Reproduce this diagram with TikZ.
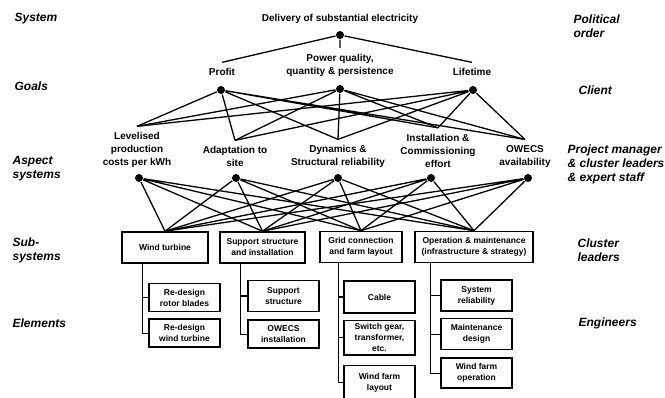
\documentclass[tikz,border=0pt]{standalone}
\usepackage{fontspec}
\setmainfont{Liberation Sans}
\usetikzlibrary{positioning}

\begin{document}
\begin{tikzpicture}[x=1pt, y=-1pt, line width=1.3pt, font=\bfseries]
  \tikzstyle{hub}=[circle, fill, inner sep=0pt, minimum size=8pt]
  \tikzstyle{lvl}=[font=\bfseries\itshape\fontsize{12}{14}\selectfont, align=left, anchor=west, inner sep=0pt]
  \tikzstyle{lbl}=[font=\bfseries\fontsize{10}{13}\selectfont, align=center, inner sep=0pt, outer ysep=6pt]
  \tikzstyle{box}=[draw, line width=1.6pt, align=center, font=\bfseries\fontsize{8.5}{11}\selectfont, inner xsep=2pt, inner ysep=3pt]
  \tikzstyle{subbox}=[box, minimum height=31pt]
  \tikzstyle{elbox}=[box, minimum width=71pt, minimum height=28pt]

  \useasboundingbox (0,0) rectangle (665,398);

  % levels, left
  \node[lvl] (lv_sys) at (14,19) {System};
  \node[lvl] (lv_goal) at (14,86) {Goals};
  \node[lvl] (lv_asp) at (12,169) {Aspect\\systems};
  \node[lvl] (lv_sub) at (12,250) {Sub-\\systems};
  \node[lvl] (lv_el) at (12,323) {Elements};

  % actors, right
  \node[lvl] (ac_pol) at (573,26) {Political\\order};
  \node[lvl] (ac_cl) at (578,90) {Client};
  \node[lvl] (ac_pm) at (567,164) {Project manager\\\& cluster leaders\\\& expert staff};
  \node[lvl] (ac_cls) at (577,250.5) {Cluster\\leaders};
  \node[lvl] (ac_eng) at (578,323) {Engineers};

  % system
  \node[lbl] (sys) at (340,19) {Delivery of substantial electricity};
  \node[hub] (sys_d) at (340,35) {};

  % goals
  \node[lbl] (g_profit) at (222,72) {Profit};
  \node[lbl] (g_power) at (340,65) {Power quality,\\quantity \& persistence};
  \node[lbl] (g_life) at (472,72) {Lifetime};
  \node[hub] (g_profit_d) at (221,90) {};
  \node[hub] (g_power_d) at (340,89) {};
  \node[hub] (g_life_d) at (473,90) {};

  % aspect systems
  \node[lbl] (a_cost) at (137,150) {Levelised\\production\\costs per kWh};
  \node[lbl] (a_site) at (235,156.5) {Adaptation to\\site};
  \node[lbl] (a_dyn) at (338,156.5) {Dynamics \&\\Structural reliability};
  \node[lbl] (a_inst) at (438,150.5) {Installation \&\\Commissioning\\effort};
  \node[lbl] (a_avail) at (525,156.5) {OWECS\\availability};
  \node[hub] (a_cost_d) at (139,178) {};
  \node[hub] (a_site_d) at (236,178) {};
  \node[hub] (a_dyn_d) at (338,178) {};
  \node[hub] (a_inst_d) at (431,178) {};
  \node[hub] (a_avail_d) at (528,178) {};

  % sub-systems
  \node[subbox, minimum width=86pt] (s_wt) at (165,247.5) {Wind turbine};
  \node[subbox, minimum width=85pt] (s_sup) at (262.5,247.5) {Support structure\\and installation};
  \node[subbox, minimum width=82pt] (s_grid) at (361,247) {Grid connection\\and farm layout};
  \node[subbox, minimum width=118pt] (s_om) at (474,247) {Operation \& maintenance\\(infrastructure \& strategy)};

  % elements
  \node[elbox, below right=19pt and 27pt of s_wt.south west] (e_rotor) {Re-design\\rotor blades};
  \node[elbox, below=6pt of e_rotor] (e_turb) {Re-design\\wind turbine};
  \node[elbox, below right=16pt and 28pt of s_sup.south west, minimum height=31pt] (e_supp) {Support\\structure};
  \node[elbox, below=7pt of e_supp] (e_inst) {OWECS\\installation};
  \node[elbox, below right=17pt and 24pt of s_grid.south west, minimum height=32pt] (e_cable) {Cable};
  \node[elbox, below=6pt of e_cable] (e_switch) {Switch gear,\\transformer,\\etc.};
  \node[elbox, below=9pt of e_switch, minimum height=34pt] (e_layout) {Wind farm\\layout};
  \node[elbox, below right=16pt and 26pt of s_om.south west, minimum height=31pt] (e_rel) {System\\reliability};
  \node[elbox, below=6pt of e_rel, minimum height=31pt] (e_maint) {Maintenance\\design};
  \node[elbox, below=7pt of e_maint, minimum height=30pt] (e_oper) {Wind farm\\operation};

  % system to goals
  \draw (sys_d) -- (g_profit.north) (sys_d) -- (g_power.north) (sys_d) -- (g_life.north);

  % goals to aspect systems
  \draw (g_profit_d) -- (a_cost.north) (g_profit_d) -- (a_site.north) (g_profit_d) -- (a_dyn.north) (g_profit_d) -- (a_inst.north) (g_profit_d) -- (a_avail.north);
  \draw (g_power_d) -- (a_cost.north) (g_power_d) -- (a_site.north) (g_power_d) -- (a_dyn.north) (g_power_d) -- (a_inst.north) (g_power_d) -- (a_avail.north);
  \draw (g_life_d) -- (a_cost.north) (g_life_d) -- (a_site.north) (g_life_d) -- (a_dyn.north) (g_life_d) -- (a_inst.north) (g_life_d) -- (a_avail.north);

  % aspect systems to sub-systems
  \draw (a_cost_d) -- (s_wt.north) (a_cost_d) -- (s_sup.north) (a_cost_d) -- (s_grid.north) (a_cost_d) -- (s_om.north);
  \draw (a_site_d) -- (s_wt.north) (a_site_d) -- (s_sup.north) (a_site_d) -- (s_grid.north) (a_site_d) -- (s_om.north);
  \draw (a_dyn_d) -- (s_wt.north) (a_dyn_d) -- (s_sup.north) (a_dyn_d) -- (s_grid.north) (a_dyn_d) -- (s_om.north);
  \draw (a_inst_d) -- (s_wt.north) (a_inst_d) -- (s_sup.north) (a_inst_d) -- (s_grid.north) (a_inst_d) -- (s_om.north);
  \draw (a_avail_d) -- (s_wt.north) (a_avail_d) -- (s_sup.north) (a_avail_d) -- (s_grid.north) (a_avail_d) -- (s_om.north);

  % sub-systems to elements
  \coordinate (t_wt) at ([xshift=21pt]s_wt.south west);
  \coordinate (t_sup) at ([xshift=21pt]s_sup.south west);
  \coordinate (t_grid) at ([xshift=19pt]s_grid.south west);
  \coordinate (t_om) at ([xshift=16pt]s_om.south west);
  \draw (t_wt) |- (e_rotor.west) (t_wt) |- (e_turb.west);
  \draw (t_sup) |- (e_supp.west) (t_sup) |- (e_inst.west);
  \draw (t_grid) |- (e_cable.west) (t_grid) |- (e_switch.west) (t_grid) |- (e_layout.west);
  \draw (t_om) |- (e_rel.west) (t_om) |- (e_maint.west) (t_om) |- (e_oper.west);

\end{tikzpicture}
\end{document}
